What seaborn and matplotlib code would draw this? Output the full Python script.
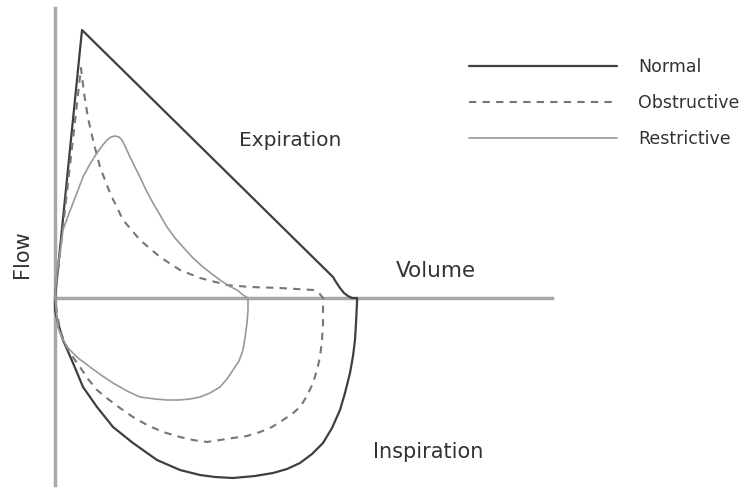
import matplotlib
matplotlib.use("Agg")
import matplotlib.pyplot as plt
import seaborn as sns
import pandas as pd

# flow-volume loops (arbitrary units, origin = start of expiration)
# each loop: expiration from origin -> peak -> residual volume, then inspiration back to origin
normal_vol = [0, 27, 278, 281, 285, 289, 293, 297, 302,
              302, 301, 300, 298, 295, 290, 285, 277, 268, 257, 245, 232, 218, 200, 178, 160, 145,
              125, 102, 78, 58, 42, 28, 18, 8, 3, 0, 0]
normal_flow = [0, 268, 21, 16, 10, 5, 2, 0, 0,
               -5, -25, -42, -58, -75, -95, -112, -130, -145, -156, -165, -171, -175, -178, -180,
               -179, -177, -172, -162, -145, -129, -109, -89, -65, -42, -25, -12, 0]

obstr_vol = [0, 26, 29, 33, 38, 45, 55, 68, 85, 105, 125, 145, 172, 195, 225, 258, 264, 268,
             268, 268, 267, 265, 262, 258, 252, 245, 237, 228, 217, 205, 192, 178, 165, 152,
             138, 125, 108, 92, 78, 65, 53, 42, 33, 25, 15, 9, 5, 2, 0]
obstr_flow = [0, 230, 205, 180, 158, 131, 105, 78, 58, 41, 28, 20, 13, 11, 10, 8, 5, 0,
              -12, -25, -42, -59, -72, -85, -98, -109, -116, -122, -129, -134, -138, -140, -142,
              -144, -142, -139, -134, -127, -119, -110, -101, -92, -81, -69, -55, -43, -32, -15, 0]

restr_vol = [0, 2, 5, 8, 13, 18, 23, 28, 35, 42, 47, 52, 56, 60, 64, 67, 70, 75, 80, 85, 91, 98,
             105, 112, 120, 128, 138, 148, 157, 165, 174, 182, 188, 193,
             193, 192, 190, 188, 184, 178, 172, 165, 155, 145, 135, 124, 112, 100, 85, 72, 58,
             46, 35, 23, 12, 6, 3, 0]
restr_flow = [0, 28, 45, 68, 82, 95, 108, 121, 134, 145, 152, 158, 161, 162, 161, 158, 152, 141,
              131, 121, 108, 95, 83, 71, 60, 51, 40, 31, 24, 18, 12, 8, 3, 0,
              -12, -25, -40, -52, -63, -72, -81, -89, -95, -99, -101, -102, -102, -101, -99, -93,
              -85, -77, -69, -60, -49, -38, -29, 0]

patterns = ["Normal", "Obstructive", "Restrictive"]
colors = {"Normal": "#3f3f3f", "Obstructive": "#767676", "Restrictive": "#999999"}
widths = {"Normal": 1.6, "Obstructive": 1.5, "Restrictive": 1.2}
dash_styles = {"Normal": "-", "Obstructive": (0, (3.5, 3)), "Restrictive": "-"}

frames = []
for name, v, f in zip(patterns, [normal_vol, obstr_vol, restr_vol],
                      [normal_flow, obstr_flow, restr_flow]):
    frames.append(pd.DataFrame({"volume": v, "flow": f, "pattern": name}))
df = pd.concat(frames, ignore_index=True)

sns.set_style("white")
plt.rcParams['font.family'] = ['DejaVu Sans']

fig = plt.figure(figsize=(7.42, 4.88), dpi=100)
ax = fig.add_axes([0, 0, 1, 1])

for name in patterns:
    sub = df[df["pattern"] == name]
    sns.lineplot(data=sub, x="volume", y="flow", sort=False, estimator=None, ax=ax,
                 color=colors[name], linewidth=widths[name], linestyle=dash_styles[name],
                 label=name)

ax.set_xlim(-55, 687)
ax.set_ylim(-190, 298)

# axes drawn as spines through the origin
for side in ["top", "right"]:
    ax.spines[side].set_visible(False)
ax.spines["left"].set_position(("data", 0))
ax.spines["bottom"].set_position(("data", 0))
ax.spines["left"].set_bounds(-187, 290)
ax.spines["bottom"].set_bounds(0, 497)
for side in ["left", "bottom"]:
    ax.spines[side].set_color("#a8a8a8")
    ax.spines[side].set_linewidth(2.5)
    ax.spines[side].set_zorder(1)
ax.set_xticks([])
ax.set_yticks([])
ax.set_xlabel("")
ax.set_ylabel("")

ax.text(235, 157, "Expiration", fontsize=14.5, ha="center", va="center", color="#333333")
ax.text(381, 27, "Volume", fontsize=15.5, ha="center", va="center", color="#333333")
ax.text(373, -154, "Inspiration", fontsize=15, ha="center", va="center", color="#333333")
ax.text(-33, 44, "Flow", fontsize=15, ha="center", va="center", rotation=90, color="#333333")

leg = ax.legend(loc="upper left", bbox_to_anchor=(0.611, 0.913), frameon=False,
                handlelength=8.5, handletextpad=1.26, labelspacing=1.04, fontsize=12.5)
for t in leg.get_texts():
    t.set_color("#333333")

fig.savefig("out.png", dpi=100)
